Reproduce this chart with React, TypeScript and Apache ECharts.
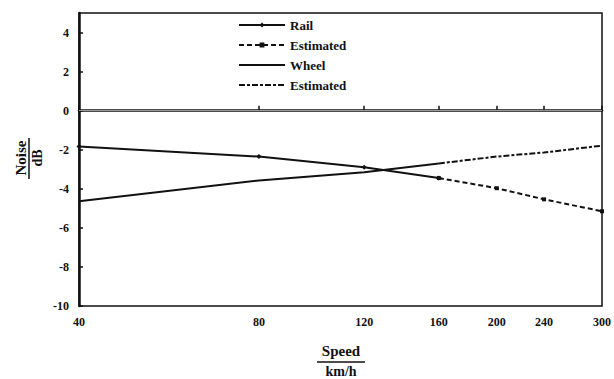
import React, { useEffect, useRef } from "react";
import * as echarts from "echarts";

const speedTicks = [40, 80, 120, 160, 200, 240, 300];
const noiseTicks = [-10, -8, -6, -4, -2, 0, 2, 4];

const railSpeeds = [40, 80, 120, 160];
const railValues = [-1.84, -2.35, -2.9, -3.45];
const railEstSpeeds = [160, 200, 240, 300];
const railEstValues = [-3.45, -3.97, -4.54, -5.15];

const wheelSpeeds = [40, 80, 120, 160];
const wheelValues = [-4.64, -3.57, -3.15, -2.7];
const wheelEstSpeeds = [160, 200, 240, 300];
const wheelEstValues = [-2.7, -2.35, -2.14, -1.79];

const zip = (xs: number[], ys: number[]) => xs.map((x, i) => [x, ys[i]]);

const FONT = "'Liberation Serif', 'Times New Roman', serif";

export default function App() {
  const ref = useRef<HTMLDivElement>(null);
  useEffect(() => {
    if (!ref.current) return;
    const chart = echarts.init(ref.current, null, { renderer: "svg" });
    const labelStyle = {
      color: "#111",
      fontFamily: FONT,
      fontWeight: "bold" as const,
      fontSize: 12,
    };
    chart.setOption({
      animation: false,
      backgroundColor: "#fff",
      grid: {
        left: 79,
        right: 12,
        top: 13,
        bottom: 73,
        show: true,
        borderColor: "#111",
        borderWidth: 1.5,
        containLabel: false,
      },
      legend: {
        orient: "vertical",
        left: 233,
        top: 13,
        itemWidth: 46,
        itemHeight: 6,
        itemGap: 6,
        textStyle: { ...labelStyle, fontSize: 13, lineHeight: 14 },
        data: [
          { name: "Rail" },
          { name: "Estimated" },
          { name: "Wheel", itemStyle: { opacity: 0 } },
          { name: "Estimated ", itemStyle: { opacity: 0 } },
        ],
      },
      xAxis: {
        type: "log",
        min: 40,
        max: 300,
        axisLine: { show: true, lineStyle: { color: "#111", width: 2.5 } },
        axisTick: {
          show: true,
          inside: true,
          length: 5,
          lineStyle: { color: "#111", width: 1.5 },
          customValues: speedTicks,
        },
        axisLabel: { ...labelStyle, margin: 10, customValues: speedTicks },
        minorTick: { show: false },
        splitLine: { show: false },
      },
      yAxis: {
        type: "value",
        min: -10,
        max: 5,
        interval: 2,
        axisLine: { show: true, lineStyle: { color: "#111", width: 2.5 } },
        axisTick: {
          show: true,
          inside: true,
          length: 4,
          lineStyle: { color: "#111", width: 1.5 },
          customValues: noiseTicks,
        },
        axisLabel: { ...labelStyle, margin: 10, customValues: noiseTicks },
        splitLine: { show: false },
      },
      series: [
        {
          name: "Rail",
          type: "line",
          data: zip(railSpeeds, railValues),
          symbol: "diamond",
          symbolSize: 5,
          showSymbol: true,
          itemStyle: { color: "#111" },
          lineStyle: { color: "#111", width: 2 },
          z: 3,
          markLine: {
            silent: true,
            symbol: "none",
            label: { show: false },
            lineStyle: { color: "#999", width: 1, type: "solid" },
            data: [{ yAxis: 0 }],
          },
        },
        {
          name: "Estimated",
          type: "line",
          data: zip(railEstSpeeds, railEstValues),
          symbol: "rect",
          symbolSize: 4,
          itemStyle: { color: "#111" },
          lineStyle: { color: "#111", width: 2, type: [5, 3] },
          z: 3,
        },
        {
          name: "Wheel",
          type: "line",
          data: zip(wheelSpeeds, wheelValues),
          symbol: "none",
          itemStyle: { color: "#111" },
          lineStyle: { color: "#111", width: 2 },
          z: 3,
        },
        {
          name: "Estimated ",
          type: "line",
          data: zip(wheelEstSpeeds, wheelEstValues),
          symbol: "none",
          itemStyle: { color: "#111" },
          lineStyle: { color: "#111", width: 2, type: [6, 2, 3, 2] },
          z: 3,
        },
      ],
      graphic: [
        {
          type: "text",
          x: 21,
          y: 158,
          rotation: Math.PI / 2,
          style: {
            text: "Noise",
            fill: "#111",
            font: `bold 15px ${FONT}`,
            align: "center",
            verticalAlign: "middle",
          },
        },
        {
          type: "line",
          shape: { x1: 29, y1: 138, x2: 29, y2: 179 },
          style: { stroke: "#111", lineWidth: 1.5 },
        },
        {
          type: "text",
          x: 37,
          y: 158,
          rotation: Math.PI / 2,
          style: {
            text: "dB",
            fill: "#111",
            font: `bold 14px ${FONT}`,
            align: "center",
            verticalAlign: "middle",
          },
        },
        {
          type: "text",
          x: 341,
          y: 351,
          style: {
            text: "Speed",
            fill: "#111",
            font: `bold 15px ${FONT}`,
            align: "center",
            verticalAlign: "middle",
          },
        },
        {
          type: "line",
          shape: { x1: 317, y1: 362, x2: 365, y2: 362 },
          style: { stroke: "#111", lineWidth: 1.5 },
        },
        {
          type: "text",
          x: 341,
          y: 371,
          style: {
            text: "km/h",
            fill: "#111",
            font: `bold 14px ${FONT}`,
            align: "center",
            verticalAlign: "middle",
          },
        },
      ],
    });
    return () => chart.dispose();
  }, []);
  return (
    <div
      ref={ref}
      style={{ position: "fixed", left: 0, top: 0, width: 614, height: 379, background: "#fff" }}
    />
  );
}
